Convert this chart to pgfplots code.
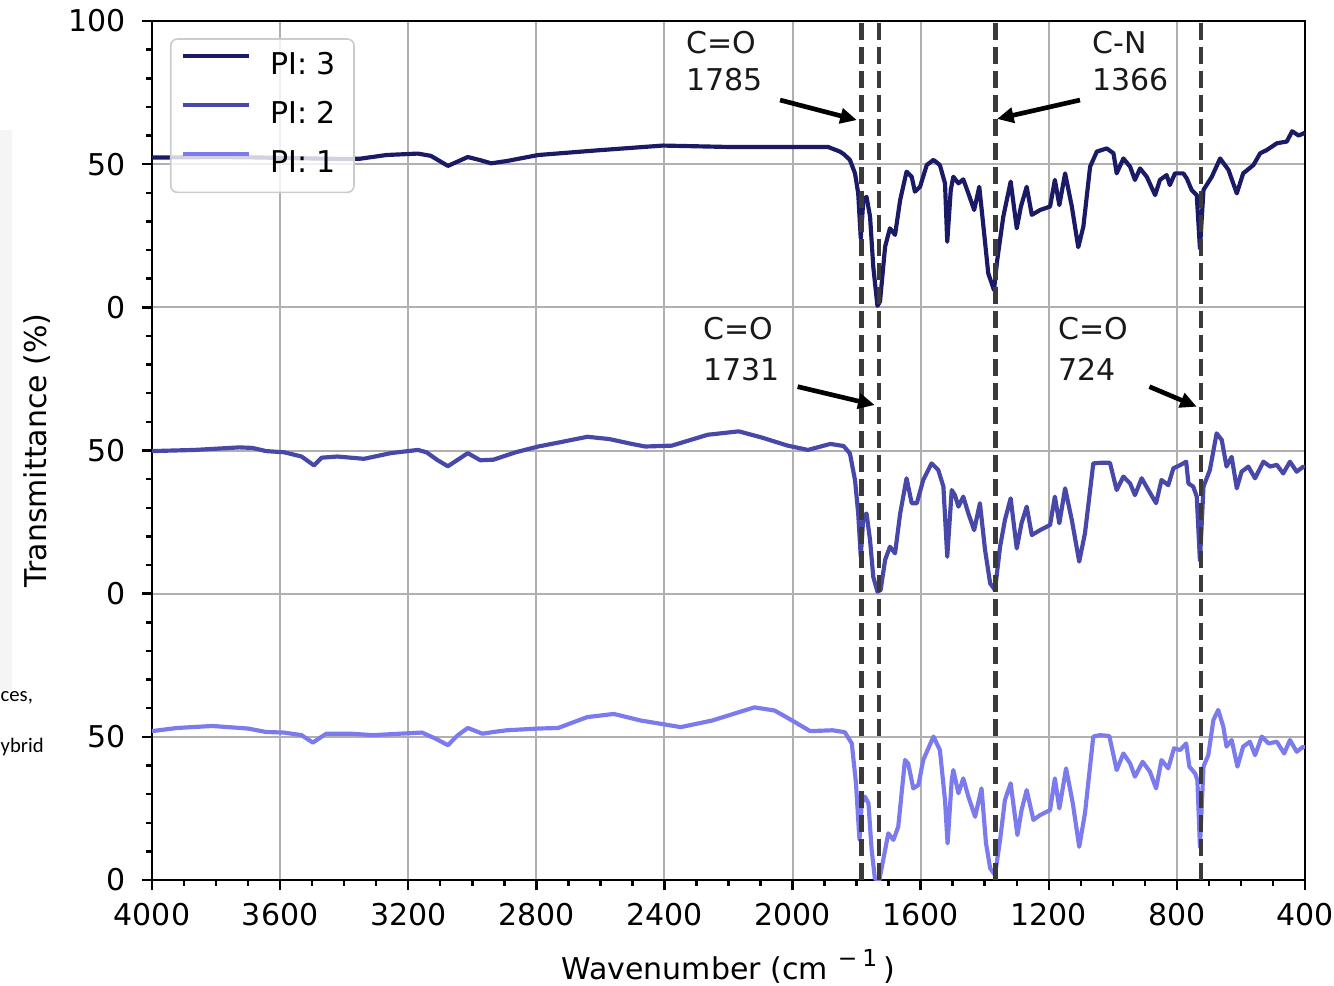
\documentclass[border=0pt]{standalone}
\usepackage{fontspec}
\setmainfont{DejaVu Sans}
\newfontfamily\carlito{Carlito}
\usepackage{pgfplots}
\usepackage{pgfplotstable}
\pgfplotsset{compat=1.18}
\usetikzlibrary{arrows.meta}
\definecolor{pithree}{HTML}{1A1A66}
\definecolor{pitwo}{HTML}{4848A8}
\definecolor{pione}{HTML}{7B7BEE}
\definecolor{gridgray}{HTML}{B0B0B0}
\definecolor{dashgray}{HTML}{3A3A3A}

\pgfplotstableread{
x y
4000 52.3
3900 52.4
3800 52.5
3700 52.4
3600 52.2
3500 52.0
3400 51.8
3351 51.9
3268 53.2
3170 53.7
3129 52.9
3076 49.4
3014 52.5
2975 51.4
2941 50.3
2892 51.1
2794 53.2
2613 54.8
2405 56.5
2196 56.0
1987 56.0
1889 56.0
1852 54.4
1840 53.5
1821 51.5
1805 46.8
1795 39.8
1787 24.1
1779 37.5
1769 38.6
1758 31.7
1748 14.2
1735 0.5
1727 2.0
1711 21.2
1696 27.6
1680 25.3
1664 37.5
1644 47.4
1628 45.6
1618 40.4
1602 42.1
1581 49.7
1560 51.5
1540 49.7
1524 43.3
1517 22.9
1506 41.0
1498 45.6
1482 43.3
1467 44.7
1451 39.8
1433 34.0
1417 42.1
1404 28.2
1389 11.9
1371 6.0
1361 16.5
1342 31.7
1319 43.9
1300 27.6
1287 35.2
1269 42.1
1253 32.3
1227 34.0
1196 35.2
1181 44.5
1167 35.7
1149 46.8
1128 35.2
1108 21.0
1092 28.2
1071 49.1
1050 54.4
1019 55.5
998 53.8
988 46.8
967 52.0
946 49.1
931 44.5
915 48.5
894 45.6
868 39.2
853 44.5
832 46.2
822 42.7
806 46.8
780 46.8
769 45.0
754 41.0
738 39.2
728 20.5
717 41.0
691 45.6
665 52.0
639 48.0
613 39.8
593 46.8
561 49.7
540 53.8
520 54.9
488 57.3
457 57.9
440 61.5
420 60.0
400 61.0
}\piiii

\pgfplotstableread{
x y
4000 49.8
3867 50.2
3727 51.1
3686 50.9
3644 49.8
3588 49.4
3533 47.9
3494 44.8
3470 47.5
3421 47.9
3338 47.1
3254 49.1
3170 50.2
3143 49.4
3108 46.6
3076 44.5
3014 49.1
2975 46.6
2934 46.8
2864 49.4
2794 51.4
2725 52.9
2641 54.8
2572 54.0
2502 52.3
2460 51.4
2377 51.7
2265 55.5
2168 56.7
2098 54.6
2015 51.7
1952 50.2
1882 52.3
1848 51.7
1841 51.6
1821 49.0
1805 39.7
1795 28.0
1787 12.9
1779 26.9
1769 28.0
1758 18.7
1748 5.9
1735 0.7
1725 1.3
1711 11.8
1696 16.4
1680 14.1
1664 28.0
1644 40.3
1628 31.6
1612 31.6
1592 39.7
1566 45.5
1545 43.2
1529 37.4
1517 12.9
1503 36.2
1493 34.4
1482 30.4
1467 33.9
1451 28.0
1433 22.2
1415 31.6
1399 15.3
1383 3.6
1368 1.3
1352 16.4
1337 25.7
1319 33.3
1300 15.8
1285 24.6
1269 30.4
1253 20.5
1227 22.2
1196 24.0
1181 33.9
1167 24.6
1149 36.8
1128 25.7
1105 11.2
1087 21.1
1061 45.5
1040 45.7
1009 45.7
988 36.2
967 40.9
946 38.5
931 34.4
910 40.3
889 36.2
865 31.6
848 39.7
827 37.9
811 43.8
790 44.9
771 46.1
764 38.5
749 37.4
738 33.9
728 11.5
717 37.4
697 43.2
676 56.0
660 53.7
645 44.4
629 47.8
613 36.8
598 42.6
577 44.4
556 40.3
530 46.1
509 44.4
488 45.0
468 42.0
447 46.1
426 42.6
405 44.4
400 44.0
}\piii

\pgfplotstableread{
x y
4000 52.0
3922 53.1
3811 53.8
3700 52.9
3644 51.7
3588 51.5
3533 50.6
3498 48.0
3456 51.1
3379 51.1
3310 50.6
3226 51.1
3157 51.5
3115 49.4
3076 47.1
3045 50.6
3014 53.1
2968 51.1
2934 51.7
2892 52.3
2794 52.9
2732 53.1
2641 56.9
2558 58.0
2474 55.7
2349 53.4
2251 55.7
2119 60.3
2056 59.2
2001 55.7
1945 52.0
1875 52.3
1841 51.7
1836 51.5
1815 47.7
1802 33.8
1791 14.0
1784 26.8
1774 29.1
1763 26.8
1753 10.5
1743 0.5
1729 0.0
1717 7.0
1701 16.3
1685 14.0
1670 18.6
1649 41.9
1639 40.7
1623 32.0
1607 33.2
1592 41.9
1560 50.1
1540 45.4
1524 27.9
1516 12.8
1503 34.9
1498 38.4
1482 30.3
1467 35.5
1451 29.1
1430 22.1
1410 32.0
1396 12.8
1383 4.1
1368 1.8
1352 14.0
1337 27.9
1319 33.8
1298 15.7
1285 24.4
1269 31.4
1248 21.0
1227 22.7
1196 24.4
1181 35.5
1167 25.0
1146 39.0
1125 26.8
1105 11.6
1087 23.3
1061 50.1
1040 50.6
1011 50.3
988 38.4
967 44.2
946 40.7
931 36.1
907 41.3
884 37.8
865 32.0
848 41.9
827 39.0
809 46.0
790 45.4
771 47.7
761 39.6
743 37.2
736 34.9
728 11.6
717 39.6
702 43.6
686 55.9
671 59.4
655 53.5
645 46.6
629 48.9
611 39.6
593 46.6
572 48.3
556 43.6
535 50.1
514 47.7
488 48.3
465 44.2
447 48.9
426 44.8
405 46.6
400 46.0
}\pii

\begin{document}
\begin{tikzpicture}
\fill[black!4] (-45.6pt,57pt) rectangle (-42pt,225pt);
\begin{axis}[
  scale only axis, width=345.9pt, height=257.7pt,
  xmin=400, xmax=4000, x dir=reverse, ymin=0, ymax=300,
  xtick={400,800,...,4000}, minor x tick num=3,
  ytick={0,50,...,300}, yticklabels={0,50,0,50,0,50,100}, minor y tick num=4,
  tick pos=left, tick align=outside,
  major tick length=3pt, minor tick length=1.8pt,
  every tick/.style={black, line width=0.75pt},
  grid=major, major grid style={gridgray, line width=0.6pt},
  axis line style={black, line width=0.75pt},
  /pgf/number format/assume math mode=true,
  /pgf/number format/1000 sep={},
  tick label style={font=\fontsize{9}{10.8}\selectfont, inner sep=0pt},
  xticklabel style={anchor=north, yshift=-3.9pt},
  yticklabel style={anchor=east, xshift=-4.8pt},
  xlabel={Wavenumber (cm\hspace{3pt}\textsuperscript{\fontsize{7}{7}\selectfont −\hspace{1.5pt}1}\hspace{1.5pt})},
  xlabel style={font=\fontsize{9}{10.8}\selectfont, inner sep=0pt, at={(axis description cs:0.5,-0.1153)}, anchor=base},
  ylabel={Transmittance (\%)},
  ylabel style={font=\fontsize{9}{10.8}\selectfont, inner sep=0pt, at={(axis description cs:-0.0997,0.5)}, anchor=center},
  legend style={at={(0.0156,0.980)}, anchor=north west, draw=black!20, line width=0.5pt,
    rounded corners=2pt, fill=white, fill opacity=0.8, text opacity=1, draw opacity=1,
    font=\fontsize{9}{10.8}\selectfont, inner xsep=3pt, inner ysep=4pt,
    row sep=6.1pt, column sep=5.8pt,
    nodes={inner sep=0pt, text height=6.6pt, text depth=2pt}},
  legend cell align=left,
  legend image code/.code={\draw[#1] (0pt,3.3pt) -- (19.8pt,3.3pt);},
]
\addplot[pithree, line width=1.25pt, line join=round] table[x=x, y expr=\thisrow{y}+200] {\piiii};
\addlegendentry{PI: 3\rule{2.4pt}{0pt}}
\addplot[pitwo, line width=1.25pt, line join=round] table[x=x, y expr=\thisrow{y}+100] {\piii};
\addlegendentry{PI: 2\rule{2.4pt}{0pt}}
\addplot[pione, line width=1.25pt, line join=round] table[x=x, y=y] {\pii};
\addlegendentry{PI: 1\rule{2.4pt}{0pt}}

\addplot[forget plot, dashgray, line width=1.3pt, dash pattern=on 5pt off 2.2pt] coordinates {(1785,0) (1785,300)};
\addplot[forget plot, dashgray, line width=1.3pt, dash pattern=on 5pt off 2.2pt] coordinates {(1731,0) (1731,300)};
\addplot[forget plot, dashgray, line width=1.3pt, dash pattern=on 5pt off 2.2pt] coordinates {(1366,0) (1366,300)};
\addplot[forget plot, dashgray, line width=1.3pt, dash pattern=on 5pt off 2.2pt] coordinates {(724,0) (724,300)};

\draw[-{Stealth[length=5pt,width=4.5pt,inset=0pt]}, line width=1.4pt] (axis cs:2039,272.4) -- (axis cs:1799,265.4);
\draw[-{Stealth[length=5pt,width=4.5pt,inset=0pt]}, line width=1.4pt] (axis cs:1102.5,272.4) -- (axis cs:1361.7,265.8);
\draw[-{Stealth[length=5pt,width=4.5pt,inset=0pt]}, line width=1.4pt] (axis cs:1984,172.3) -- (axis cs:1743.4,165.9);
\draw[-{Stealth[length=5pt,width=4.5pt,inset=0pt]}, line width=1.4pt] (axis cs:885.8,172.3) -- (axis cs:737.8,165.3);

\node[anchor=base west, inner sep=0pt, font=\fontsize{9}{10.8}\selectfont, text=black!90] at (axis cs:2333,288.8) {C=O};
\node[anchor=base west, inner sep=0pt, font=\fontsize{9}{10.8}\selectfont, text=black!90] at (axis cs:2333,275.9) {1785};
\node[anchor=base west, inner sep=0pt, font=\fontsize{9}{10.8}\selectfont, text=black!90] at (axis cs:1065,288.8) {C-N};
\node[anchor=base west, inner sep=0pt, font=\fontsize{9}{10.8}\selectfont, text=black!90] at (axis cs:1065,275.9) {1366};
\node[anchor=base west, inner sep=0pt, font=\fontsize{9}{10.8}\selectfont, text=black!90] at (axis cs:2280,188.6) {C=O};
\node[anchor=base west, inner sep=0pt, font=\fontsize{9}{10.8}\selectfont, text=black!90] at (axis cs:2280,174.6) {1731};
\node[anchor=base west, inner sep=0pt, font=\fontsize{9}{10.8}\selectfont, text=black!90] at (axis cs:1171,188.6) {C=O};
\node[anchor=base west, inner sep=0pt, font=\fontsize{9}{10.8}\selectfont, text=black!90] at (axis cs:1171,174.6) {724};
\end{axis}
\node[anchor=base west, inner sep=0pt, font=\carlito\fontsize{6.2}{7}\selectfont] at (-45.6pt,53.7pt) {ces,};
\node[anchor=base west, inner sep=0pt, font=\carlito\fontsize{6.2}{7}\selectfont] at (-45.6pt,38.4pt) {ybrid};
\pgfresetboundingbox
\path[use as bounding box] (-45.6pt,-31.5pt) rectangle (354.6pt,264pt);
\end{tikzpicture}
\end{document}
